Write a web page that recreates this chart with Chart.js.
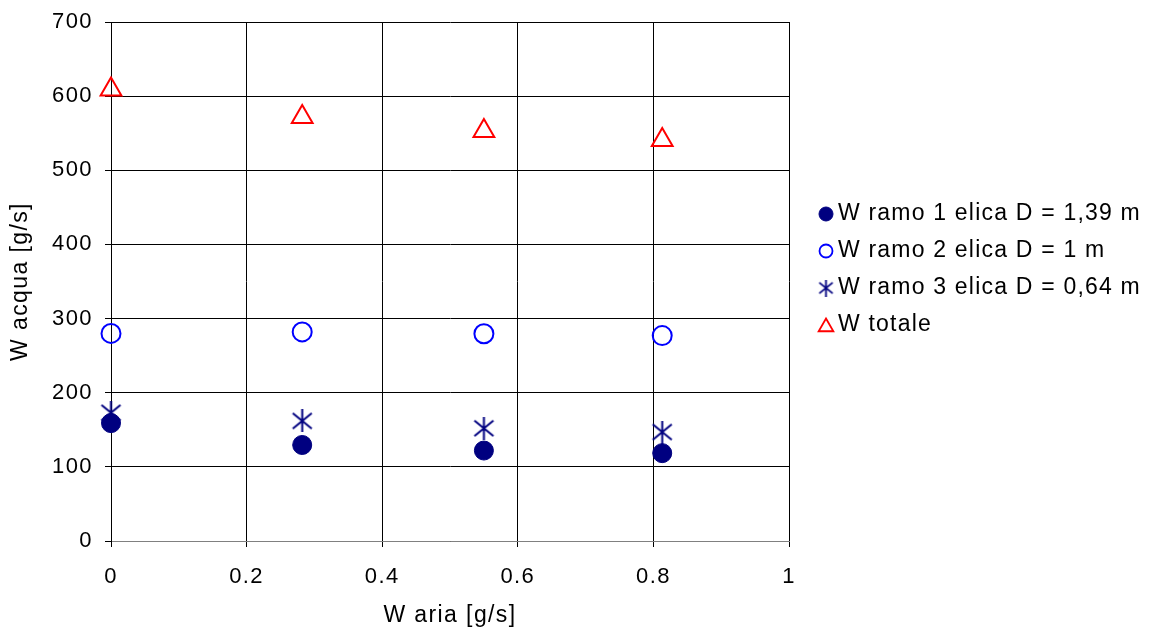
<!DOCTYPE html>
<html>
<head>
<meta charset="utf-8">
<script src="https://cdn.jsdelivr.net/npm/chart.js@4/dist/chart.umd.min.js"></script>
<style>
html,body{margin:0;padding:0;background:#fff;}
#wrap{width:1162px;height:638px;position:relative;}
</style>
</head>
<body>
<div id="wrap"><canvas id="c" width="1162" height="638"></canvas></div>
<script>
// ---- data ----
const wAria = [0, 0.282, 0.550, 0.813];
const ramo1 = [159, 129.5, 122, 118.5];
const ramo2 = [280, 282, 279.5, 277];
const ramo3 = [173, 162, 152, 147];
const totale = [609, 572, 553, 541];
const seriesNames = ['W ramo 1 elica D = 1,39 m', 'W ramo 2 elica D = 1 m', 'W ramo 3 elica D = 0,64 m', 'W totale'];
const xTickLabels = ['0', '0.2', '0.4', '0.6', '0.8', '1'];
const yTickLabels = ['0', '100', '200', '300', '400', '500', '600', '700'];
const xTitle = 'W aria [g/s]';
const yTitle = 'W acqua [g/s]';

const FONT = 'Liberation Sans, Arial, sans-serif';
const SPACING = '1.4px';

function makeStar(size, lw, color) {
  const c = document.createElement('canvas');
  c.width = size; c.height = size;
  const g = c.getContext('2d');
  g.strokeStyle = color; g.lineWidth = lw;
  const m = lw;
  g.beginPath();
  g.moveTo(m, m + size * 0.08); g.lineTo(size - m, size - m - size * 0.08);
  g.moveTo(size - m, m + size * 0.08); g.lineTo(m, size - m - size * 0.08);
  g.moveTo(size / 2, 0); g.lineTo(size / 2, size);
  g.stroke();
  return c;
}
const starBig = makeStar(23, 2, '#000080');
const starSmall = makeStar(17, 1.8, '#000080');

const pts = (ys) => wAria.map((x, i) => ({x: x, y: ys[i]}));

const styles = [
  {pointStyle: 'circle', radius: 9.5, bg: '#000080', border: '#000080', bw: 1, lr: 7},
  {pointStyle: 'circle', radius: 9.5, bg: 'rgba(0,0,0,0)', border: '#0000FF', bw: 2, lr: 6.5},
  {pointStyle: starBig, radius: 11, bg: '#000080', border: '#000080', bw: 2, lr: 7, legendImg: starSmall},
  {pointStyle: 'triangle', radius: 12, bg: 'rgba(0,0,0,0)', border: '#FF0000', bw: 2, lr: 8.5},
];
const allSeries = [ramo1, ramo2, ramo3, totale];

const datasets = allSeries.map((s, i) => ({
  label: seriesNames[i],
  data: pts(s),
  showLine: false,
  clip: false,
  pointStyle: styles[i].pointStyle,
  pointRadius: styles[i].radius,
  pointHoverRadius: styles[i].radius,
  backgroundColor: styles[i].bg,
  borderColor: styles[i].border,
  pointBorderWidth: styles[i].bw,
  borderWidth: styles[i].bw,
}));
datasets[0].order = 1; datasets[1].order = 3; datasets[2].order = 2; datasets[3].order = 4;

const spacingPlugin = {
  id: 'spacing',
  beforeLayout(chart) { chart.ctx.letterSpacing = SPACING; },
  beforeDraw(chart) { chart.ctx.letterSpacing = SPACING; },
};

const legendPlugin = {
  id: 'customLegend',
  afterDraw(chart) {
    const ctx = chart.ctx;
    ctx.save();
    ctx.letterSpacing = '1.2px';
    const x0 = 826, tx = 838, y0 = 213, dy = 37;
    seriesNames.forEach((name, i) => {
      const y = y0 + i * dy;
      const st = styles[i];
      ctx.fillStyle = st.bg; ctx.strokeStyle = st.border; ctx.lineWidth = st.bw === 1 ? 1 : 1.8;
      if (st.legendImg) {
        ctx.drawImage(st.legendImg, x0 - st.legendImg.width / 2, y - st.legendImg.height / 2 + 1);
      } else {
        Chart.helpers.drawPoint(ctx, {pointStyle: st.pointStyle, radius: st.lr, rotation: 0, borderWidth: ctx.lineWidth}, x0, y + (st.pointStyle === 'triangle' ? 3 : 1));
      }
      ctx.fillStyle = '#000';
      ctx.font = '23px ' + FONT;
      ctx.textAlign = 'left';
      ctx.textBaseline = 'middle';
      ctx.fillText(name, tx, y + 1);
    });
    ctx.restore();
  }
};

new Chart(document.getElementById('c'), {
  type: 'scatter',
  data: {datasets: datasets},
  plugins: [spacingPlugin, legendPlugin],
  options: {
    responsive: false,
    animation: false,
    events: [],
    layout: {padding: {top: 22, right: 373, bottom: 0, left: 0}},
    plugins: {legend: {display: false}, tooltip: {enabled: false}},
    scales: {
      x: {
        type: 'linear', min: 0, max: 1,
        afterFit(s) { s.height = 97; },
        ticks: {
          stepSize: 0.2, color: '#000', padding: 17,
          font: {family: FONT, size: 22},
          callback: (v, i) => xTickLabels[i],
          maxRotation: 0,
        },
        grid: {color: '#000', lineWidth: 1, tickLength: 6, drawTicks: true},
        border: {color: '#808080', width: 1},
        title: {display: true, text: xTitle, color: '#000', font: {family: FONT, size: 23}, padding: {top: 0, bottom: 9}},
      },
      y: {
        type: 'linear', min: 0, max: 700,
        afterFit(s) { s.width = 111; s.paddingTop = 0; },
        ticks: {
          stepSize: 100, color: '#000', padding: 12,
          font: {family: FONT, size: 22, lineHeight: 1},
          callback: (v, i) => yTickLabels[i],
        },
        grid: {color: '#000', lineWidth: 1, tickLength: 6},
        border: {color: '#000', width: 1},
        title: {display: true, text: yTitle, color: '#000', font: {family: FONT, size: 23}, padding: {top: 7, bottom: 0}},
      }
    }
  }
});
</script>
</body>
</html>
